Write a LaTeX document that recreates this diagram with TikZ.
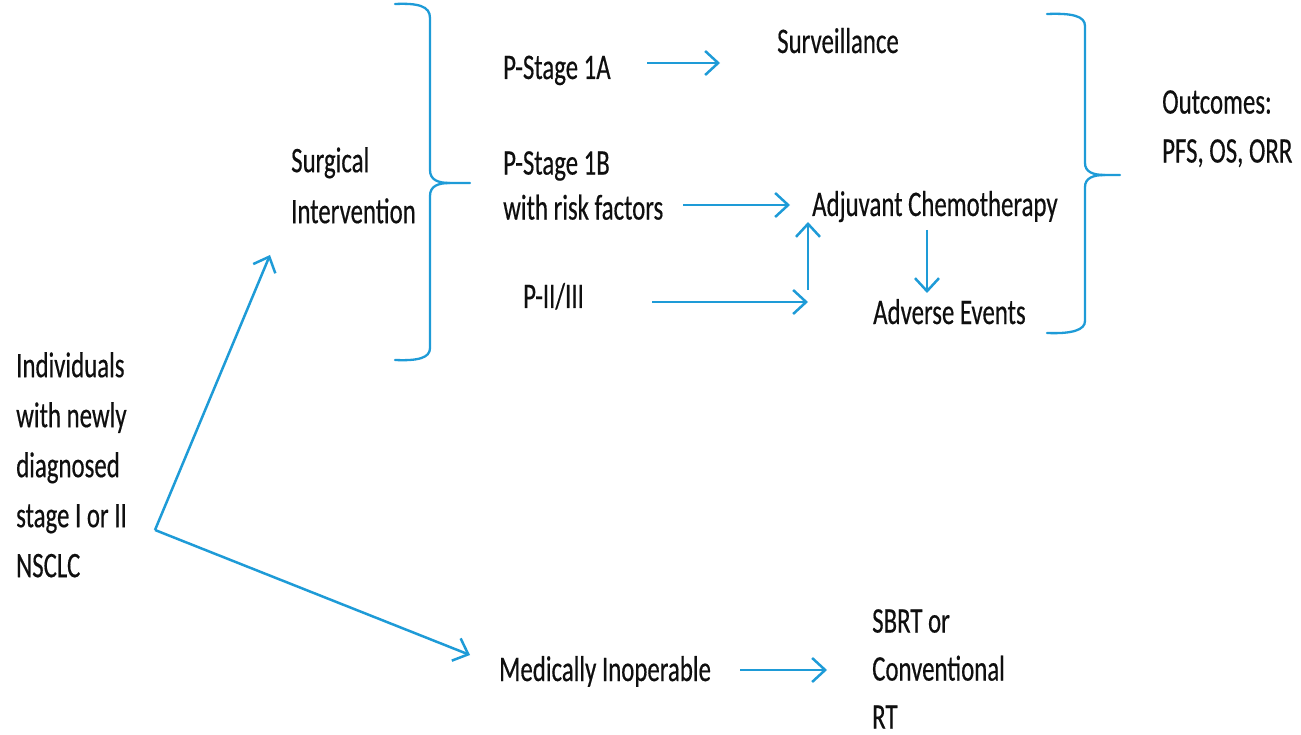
\documentclass[tikz,border=0pt]{standalone}
\usepackage{fontspec}
\setmainfont{Carlito}[FakeStretch=0.69,FakeBold=0.4]
\usetikzlibrary{arrows.meta}
\definecolor{lineblue}{RGB}{30,155,215}
\definecolor{txt}{RGB}{15,15,15}
\begin{document}
\begin{tikzpicture}[x=1pt,y=-1pt,
  lbl/.style={inner sep=0pt, text=txt, font=\fontsize{36}{50}\selectfont},
  arr/.style={draw=lineblue, line width=2.5pt, -{Straight Barb[length=13pt,width=24pt,line width=2.5pt]}},
  brace/.style={draw=lineblue, line width=2.3pt, line cap=round}]
\useasboundingbox (0,0) rectangle (1301,735);

% text nodes
\node[lbl,anchor=north west,align=left] (indiv) at (16,352) {Individuals\\with newly\\diagnosed\\stage I or II\\NSCLC};
\node[lbl,anchor=north west,align=left,font=\fontsize{36}{51}\selectfont] (surg) at (291,147) {Surgical\\Intervention};
\node[lbl,anchor=base west] (p1a) at (503,79) {P-Stage 1A};
\node[lbl,anchor=north west,align=left,font=\fontsize{36}{45}\selectfont] (p1b) at (503,151) {P-Stage 1B\\with risk factors};
\node[lbl,anchor=base west] (p23) at (523,308) {P-II/III};
\node[lbl,anchor=base west] (surv) at (777,53) {Surveillance};
\node[lbl,anchor=base west] (adj) at (812,216) {Adjuvant Chemotherapy};
\node[lbl,anchor=base west] (adv) at (873,324) {Adverse Events};
\node[lbl,anchor=north west,align=left,font=\fontsize{36}{49}\selectfont] (outc) at (1162,90) {Outcomes:\\PFS, OS, ORR};
\node[lbl,anchor=base west] (inop) at (499,681) {Medically Inoperable};
\node[lbl,anchor=north west,align=left,font=\fontsize{36}{48}\selectfont] (sbrt) at (872,609) {SBRT or\\Conventional\\RT};

% arrow end points
\coordinate (split) at (155,530);
\coordinate (toSurg) at (270,255);
\coordinate (toInop) at (470,655);
\coordinate (p1aS) at (647,63);
\coordinate (p1aE) at (720,63);
\coordinate (rfS) at (683,205);
\coordinate (rfE) at (790,205);
\coordinate (p23S) at (652,302);
\coordinate (p23E) at (808,302);
\coordinate (upS) at (808,290);
\coordinate (upE) at (808,222);
\coordinate (dnS) at (927,230);
\coordinate (dnE) at (927,293);
\coordinate (inS) at (740,670);
\coordinate (inE) at (827,670);

% connectors
\draw[arr] (split) -- (toSurg);
\draw[arr] (split) -- (toInop);
\draw[arr] (p1aS) -- (p1aE);
\draw[arr] (rfS) -- (rfE);
\draw[arr] (p23S) -- (p23E);
\draw[arr] (upS) -- (upE);
\draw[arr] (dnS) -- (dnE);
\draw[arr] (inS) -- (inE);

% left brace
\draw[brace] (395,4) .. controls (418,3) and (430,6) .. (430,18) -- (430,170)
  .. controls (430,180) and (438,183) .. (450,183) -- (470,183);
\draw[brace] (450,183) .. controls (438,183) and (430,186) .. (430,196) -- (430,348)
  .. controls (430,358) and (418,361) .. (395,360);

% right brace
\draw[brace] (1047,14) .. controls (1072,13) and (1085,16) .. (1085,26) -- (1085,163)
  .. controls (1085,172) and (1093,175) .. (1105,175) -- (1120,175);
\draw[brace] (1105,175) .. controls (1093,175) and (1085,178) .. (1085,187) -- (1085,321)
  .. controls (1085,330) and (1072,334) .. (1047,333);
\end{tikzpicture}
\end{document}
